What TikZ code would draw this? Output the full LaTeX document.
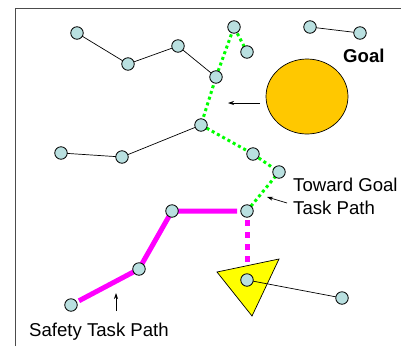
\documentclass[tikz,border=0pt]{standalone}
\usepackage{fontspec}
\setmainfont{Liberation Sans}
\usetikzlibrary{shapes.geometric,arrows.meta}
\begin{document}
\begin{tikzpicture}[x=1pt,y=-1pt,
  pt/.style={circle,draw=black,fill=nodecyan,line width=0.8pt,minimum size=12.5pt,inner sep=0pt},
  blk/.style={draw=black,line width=0.7pt},
  greenpath/.style={draw=brightgreen,line width=3pt,dash pattern=on 3pt off 3pt},
  pinkpath/.style={draw=brightpink,line width=5pt},
  pinkdash/.style={draw=brightpink,line width=5pt,dash pattern=on 6pt off 6pt},
  lbl/.style={font=\fontsize{18.6}{22}\selectfont,inner sep=0pt},
  ptr/.style={draw=black,line width=0.7pt,-{Stealth[length=6pt,width=4pt]}}
]
\definecolor{nodecyan}{RGB}{185,224,224}
\definecolor{goalorange}{RGB}{255,200,0}
\definecolor{brightpink}{RGB}{255,0,255}
\definecolor{brightgreen}{RGB}{0,255,0}
\definecolor{brightyellow}{RGB}{255,255,0}
\useasboundingbox (0,0) rectangle (401,346);
\draw[line width=0.8pt,draw=black!70] (15,346) -- (15,8) -- (401,8);
% coordinates
\coordinate (A) at (77,33);
\coordinate (B) at (128,64);
\coordinate (C) at (178,46);
\coordinate (D) at (61,153);
\coordinate (E) at (122,157);
\coordinate (F) at (201,125);
\coordinate (G) at (234,27);
\coordinate (H) at (247,52);
\coordinate (I) at (216,77);
\coordinate (J) at (310,27);
\coordinate (K) at (360,33);
\coordinate (L) at (253,154);
\coordinate (M) at (279,172);
\coordinate (N) at (172,211);
\coordinate (O) at (139,269);
\coordinate (P) at (71,305);
\coordinate (Q) at (247,211);
\coordinate (R) at (247,280);
\coordinate (S) at (342,298);
% black links
\draw[blk] (A) -- (B) -- (C) -- (I);
\draw[blk] (D) -- (E) -- (F);
\draw[blk] (J) -- (K);
% green path
\draw[greenpath] (H) -- (G) -- (I) -- (F) -- (L) -- (M) -- (Q);
% pink paths
\draw[pinkpath,shorten <=9pt,shorten >=10pt] (P) -- (O) -- (N) -- (Q);
\draw[pinkdash,shorten <=9pt] (Q) -- (R);
% goal
\node[ellipse,draw=black,line width=0.7pt,fill=goalorange,minimum width=82pt,minimum height=75pt,inner sep=0pt] (goal) at (307,96.5) {};
% triangle
\coordinate (T1) at (217,272);
\coordinate (T2) at (279,259);
\coordinate (T3) at (252,316);
\draw[black,line width=0.7pt,fill=brightyellow] (T1) -- (T2) -- (T3) -- cycle;
\draw[blk] (R) -- (S);
% nodes
\foreach \n in {A,B,C,D,E,F,G,H,I,J,K,L,M,N,O,P,Q,R,S}
  \node[pt] (n\n) at (\n) {};
% labels
\node[lbl,font=\fontsize{18.6}{22}\selectfont\bfseries,anchor=base west] (goallbl) at (343,62) {Goal};
\node[lbl,anchor=base west] (tg1) at (293,191) {Toward Goal};
\node[lbl,anchor=base west] (tg2) at (293,214) {Task Path};
\node[lbl,anchor=base west] (safe) at (29,336) {Safety Task Path};
% pointer arrows
\coordinate (a1s) at (260,103);
\coordinate (a1e) at (228,103);
\draw[ptr] (a1s) -- (a1e);
\coordinate (a2s) at (287,203);
\coordinate (a2e) at (267,197);
\draw[ptr] (a2s) -- (a2e);
\coordinate (a3s) at (116,311);
\coordinate (a3e) at (116,293);
\draw[ptr] (a3s) -- (a3e);
\end{tikzpicture}
\end{document}
